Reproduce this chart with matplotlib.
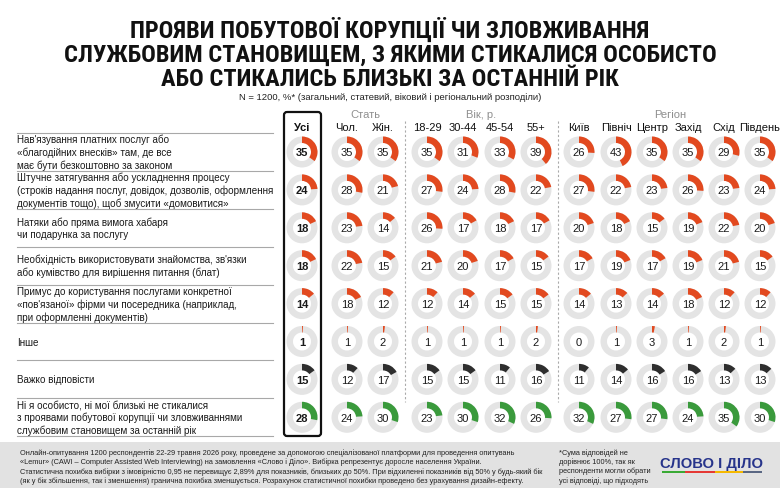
import matplotlib
matplotlib.use("Agg")
import matplotlib.pyplot as plt
from matplotlib import font_manager as fm
from matplotlib.patches import Wedge, FancyBboxPatch, Rectangle
import numpy as np

plt.rcParams['font.family'] = ['Liberation Sans', 'DejaVu Sans']

# columns and groups
columns = ['Усі', 'Чол.', 'Жін.', '18-29', '30-44', '45-54', '55+',
           'Київ', 'Північ', 'Центр', 'Захід', 'Схід', 'Південь']
group_names = ['Стать', 'Вік, р.', 'Регіон']
group_spans = [(1, 2), (3, 6), (7, 12)]

# row labels
row_labels = [
    "Нав'язування платних послуг або\n«благодійних внесків» там, де все\nмає бути безкоштовно за законом",
    "Штучне затягування або ускладнення процесу\n(строків надання послуг, довідок, дозволів, оформлення\nдокументів тощо), щоб змусити «домовитися»",
    "Натяки або пряма вимога хабаря\nчи подарунка за послугу",
    "Необхідність використовувати знайомства, зв'язки\nабо кумівство для вирішення питання (блат)",
    "Примус до користування послугами конкретної\n«пов'язаної» фірми чи посередника (наприклад,\nпри оформленні документів)",
    "Інше",
    "Важко відповісти",
    "Ні я особисто, ні мої близькі не стикалися\nз проявами побутової корупції чи зловживаннями\nслужбовим становищем за останній рік",
]

# values, % (one list per answer, in column order)
paid_services = [35, 35, 35, 35, 31, 33, 39, 26, 43, 35, 35, 29, 35]
delays = [24, 28, 21, 27, 24, 28, 22, 27, 22, 23, 26, 23, 24]
bribe_hints = [18, 23, 14, 26, 17, 18, 17, 20, 18, 15, 19, 22, 20]
connections = [18, 22, 15, 21, 20, 17, 15, 17, 19, 17, 19, 21, 15]
linked_firm = [14, 18, 12, 12, 14, 15, 15, 14, 13, 14, 18, 12, 12]
other = [1, 1, 2, 1, 1, 1, 2, 0, 1, 3, 1, 2, 1]
hard_to_say = [15, 12, 17, 15, 15, 11, 16, 11, 14, 16, 16, 13, 13]
not_faced = [28, 24, 30, 23, 30, 32, 26, 32, 27, 27, 24, 35, 30]
rows = [paid_services, delays, bribe_hints, connections, linked_firm,
        other, hard_to_say, not_faced]

title_lines = ["ПРОЯВИ ПОБУТОВОЇ КОРУПЦІЇ ЧИ ЗЛОВЖИВАННЯ",
               "СЛУЖБОВИМ СТАНОВИЩЕМ, З ЯКИМИ СТИКАЛИСЯ ОСОБИСТО",
               "АБО СТИКАЛИСЬ БЛИЗЬКІ ЗА ОСТАННІЙ РІК"]

RED = '#E2491F'
DARK = '#2E2E2E'
GREEN = '#3A9A3C'
RING = '#E4E4E4'
row_colors = [RED] * 6 + [DARK, GREEN]

fig = plt.figure(figsize=(7.8, 4.89), dpi=100)
ax = fig.add_axes([0, 0, 1, 1])
ax.set_xlim(0, 780)
ax.set_ylim(489, 0)
ax.axis('off')

# layout
col_x = [302, 347, 383, 427, 463, 500, 536, 579, 616, 652, 688, 724, 760]
row_y = [153 + 37.9 * i for i in range(len(rows))]
r_out, r_w = 15.5, 6.5

# title: pick a narrow bold face if there is one, keep the widest line within ~666 px
names = {f.name for f in fm.fontManager.ttflist}
narrow = [n for n in ['Liberation Sans Narrow', 'Roboto Condensed', 'Open Sans Condensed',
                      'DejaVu Sans Condensed'] if n in names]
if narrow:
    tprops = dict(family=[narrow[0], 'DejaVu Sans'], fontweight='bold')
else:
    tprops = dict(family=['DejaVu Sans'], fontweight='bold', fontstretch='condensed')
title_texts = [ax.text(390, y, s, ha='center', va='center', fontsize=17, color='#111111', **tprops)
               for s, y in zip(title_lines, [30, 55, 79])]
fig.canvas.draw()
widest = max(t.get_window_extent().width for t in title_texts)
for t in title_texts:
    t.set_fontsize(min(17.6, 17 * 666 / widest))

ax.text(390, 98, "N = 1200, %* (загальний, статевий, віковий і регіональний розподіли)",
        ha='center', va='center', fontsize=6.8, color='#222222')

# headers
for j, name in enumerate(columns):
    ax.text(col_x[j], 128, name, ha='center', va='center', fontsize=8,
            fontweight='bold' if j == 0 else 'normal', color='#111111')
for name, (a, b) in zip(group_names, group_spans):
    ax.text(np.mean(col_x[a:b + 1]), 115, name, ha='center', va='center',
            fontsize=8, color='#8F8F8F')

# box around "Усі"
ax.add_patch(FancyBboxPatch((284, 113), 37, 324, boxstyle='round,pad=0,rounding_size=3',
                            fc='none', ec='#111111', lw=1.6))

# dashed separators
for xs in [405, 558]:
    ax.plot([xs, xs], [122, 403], ls=(0, (2, 2)), color='#AAAAAA', lw=0.8)

# row separators and labels
for y in [ry - 19 for ry in row_y] + [row_y[-1] + 19]:
    ax.plot([17, 273], [y, y], color='#A8A8A8', lw=0.8)
for i, lab in enumerate(row_labels):
    ax.text(17, row_y[i], lab, ha='left', va='center', fontsize=7.1,
            color='#1A1A1A', linespacing=1.3)

# donuts
for i, vals in enumerate(rows):
    for j, v in enumerate(vals):
        cx, cy = col_x[j], row_y[i]
        ax.add_patch(Wedge((cx, cy), r_out, 0, 360, width=r_w, fc=RING, ec='none'))
        if v > 0:
            ax.add_patch(Wedge((cx, cy), r_out, 270, 270 + 3.6 * v, width=r_w,
                               fc=row_colors[i], ec='none'))
        ax.text(cx, cy + 0.5, str(v), ha='center', va='center', fontsize=8,
                fontweight='bold' if j == 0 else 'normal', color='#1A1A1A')

# footer
ax.add_patch(Rectangle((0, 443), 780, 46, fc='#E2E2E2', ec='none'))
footer = ("Онлайн-опитування 1200 респондентів 22-29 травня 2026 року, проведене за допомогою спеціалізованої платформи для проведення опитувань\n"
          "«Lemur» (CAWI – Computer Assisted Web Interviewing) на замовлення «Слово і Діло». Вибірка репрезентує доросле населення України.\n"
          "Статистична похибка вибірки з імовірністю 0,95 не перевищує 2,89% для показників, близьких до 50%. При відхиленні показників від 50% у будь-який бік\n"
          "(як у бік збільшення, так і зменшення) гранична похибка зменшується. Розрахунок статистичної похибки проведено без урахування дизайн-ефекту.")
ax.text(20, 467, footer, ha='left', va='center', fontsize=5.3, color='#222222', linespacing=1.3)
note = ("*Сума відповідей не\nдорівнює 100%, так як\nреспонденти могли обрати\nусі відповіді, що підходять")
ax.text(559, 467, note, ha='left', va='center', fontsize=5.3, color='#222222', linespacing=1.3)

# logo
ax.text(712, 464, "СЛОВО І ДІЛО", ha='center', va='center', fontsize=10.6,
        fontweight='bold', color='#27348B')
for x0, x1, c in [(662, 685, '#3AAA35'), (685, 715, '#E53935'),
                  (715, 743, '#F5B800'), (743, 762, '#5A6783')]:
    ax.add_patch(Rectangle((x0, 472), x1 - x0, 1.8, fc=c, ec='none'))

fig.savefig('out.png', dpi=100)
